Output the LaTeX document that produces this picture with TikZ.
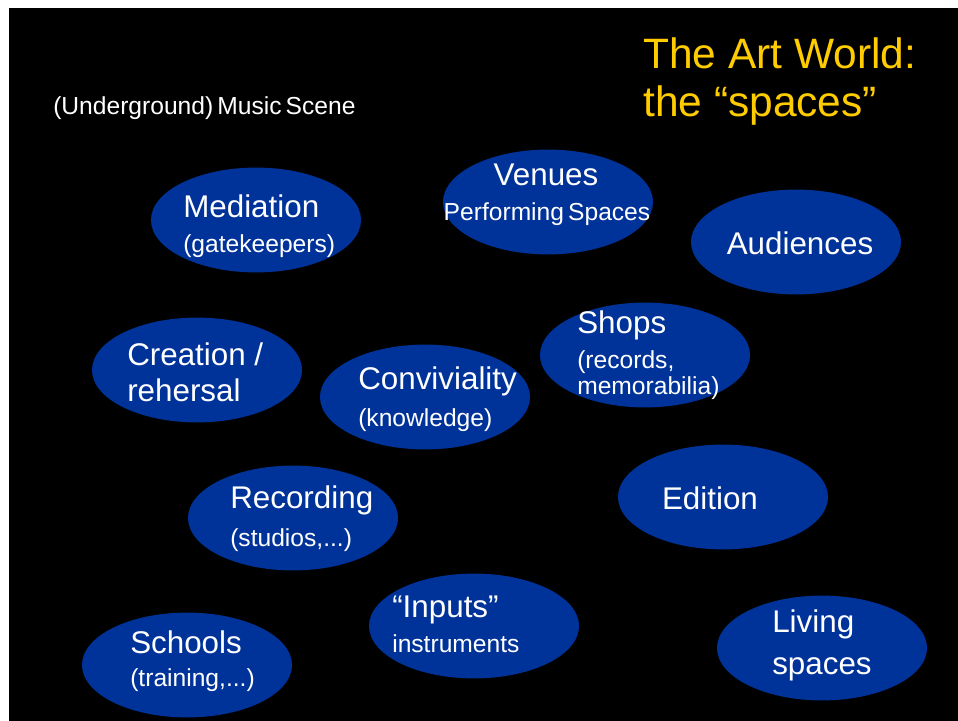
\documentclass[tikz,border=0pt]{standalone}
\usepackage{fontspec}
\setmainfont{Liberation Sans}
\usetikzlibrary{shapes.geometric}
\definecolor{spaceblue}{RGB}{0,51,153}
\definecolor{titlegold}{RGB}{255,204,0}

\tikzset{
  space/.style={ellipse, fill=spaceblue, minimum width=5.25cm, minimum height=2.62cm, inner sep=0pt},
  labelmain/.style={text=white, inner sep=0pt, font=\fontsize{22.3}{26}\selectfont},
  labelsub/.style={text=white, inner sep=0pt, font=\fontsize{17.5}{21}\selectfont},
}

\begin{document}
\begin{tikzpicture}[x=0.025cm, y=-0.025cm]
  % slide background (coordinates in pixels)
  \useasboundingbox (0,0) rectangle (958,721);
  \fill[white] (0,0) rectangle (958,721);
  \fill[black] (9,8) rectangle (958,721);

  % titles
  \node[anchor=west, inner sep=0pt, text=titlegold, font=\fontsize{30.2}{35}\selectfont] (title1) at (643,53) {The Art World:};
  \node[anchor=west, inner sep=0pt, text=titlegold, font=\fontsize{30.2}{35}\selectfont] (title2) at (643,106) {the “spaces”};
  \node[labelsub, anchor=west] (scene) at (53,108) {(Underground)\,Music\,Scene};

  % the spaces
  \node[space] (mediation) at (256,220) {};
  \node[space] (venues) at (548,202) {};
  \node[space] (audiences) at (796,242) {};
  \node[space] (creation) at (197,370) {};
  \node[space] (conviviality) at (425,397) {};
  \node[space] (shops) at (645,355) {};
  \node[space] (recording) at (293,518) {};
  \node[space] (edition) at (723,497) {};
  \node[space] (inputs) at (474,626) {};
  \node[space] (schools) at (187,665) {};
  \node[space] (living) at (822,648) {};

  % their labels
  \node[labelmain, anchor=west] (mediation-a) at (183,206) {Mediation};
  \node[labelsub, anchor=west] (mediation-b) at (183,246) {(gatekeepers)};
  \node[labelmain] (venues-a) at (546,175) {Venues};
  \node[labelsub] (venues-b) at (547,214) {Performing\,Spaces};
  \node[labelmain] (audiences-a) at (800,243) {Audiences};
  \node[labelmain, anchor=west] (creation-a) at (127,354) {Creation /};
  \node[labelmain, anchor=west] (creation-b) at (127,390) {rehersal};
  \node[labelmain, anchor=west] (conviviality-a) at (358,381) {Conviviality};
  \node[labelsub, anchor=west] (conviviality-b) at (358,420) {(knowledge)};
  \node[labelmain, anchor=west] (shops-a) at (577,325) {Shops};
  \node[labelsub, anchor=west] (shops-b) at (577,362) {(records,};
  \node[labelsub, anchor=west] (shops-c) at (577,388) {memorabilia)};
  \node[labelmain, anchor=west] (recording-a) at (230,500) {Recording};
  \node[labelsub, anchor=west] (recording-b) at (230,540) {(studios,...)};
  \node[labelmain] (edition-a) at (710,498) {Edition};
  \node[labelmain, anchor=west] (inputs-a) at (392,610) {“Inputs”};
  \node[labelsub, anchor=west] (inputs-b) at (392,644) {instruments};
  \node[labelmain, anchor=west] (schools-a) at (130,642) {Schools};
  \node[labelsub, anchor=west] (schools-b) at (130,680) {(training,...)};
  \node[labelmain, anchor=west] (living-a) at (772,624) {Living};
  \node[labelmain, anchor=west] (living-b) at (772,669) {spaces};
\end{tikzpicture}
\end{document}
